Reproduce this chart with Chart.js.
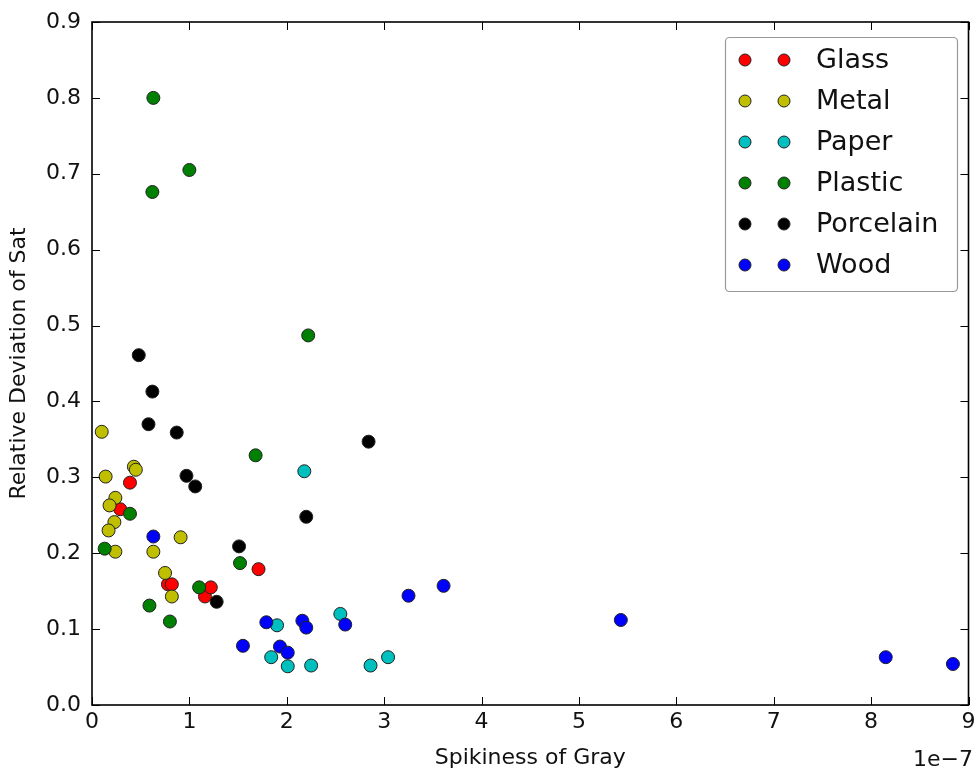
<!DOCTYPE html>
<html>
<head>
<meta charset="utf-8">
<script src="https://cdn.jsdelivr.net/npm/chart.js@4"></script>
<style>
  html, body { margin: 0; padding: 0; background: #fff; }
  #wrap { width: 976px; height: 773px; }
</style>
</head>
<body>
<div id="wrap"><canvas id="c" width="976" height="773"></canvas></div>
<script>
// Spikiness of Gray is stored in units of 1e-7; Relative Deviation of Sat is unitless.
const materials = ['Glass', 'Metal', 'Paper', 'Plastic', 'Porcelain', 'Wood'];
const colors = ['#ff0000', '#bfbf00', '#00bfbf', '#008000', '#000000', '#0000ff'];

const glassX = [0.39, 0.29, 0.78, 0.82, 1.16, 1.22, 1.71];
const glassY = [0.293, 0.258, 0.159, 0.159, 0.143, 0.155, 0.179];

const metalX = [0.10, 0.14, 0.43, 0.45, 0.24, 0.18, 0.23, 0.17, 0.24, 0.63, 0.91, 0.75, 0.82];
const metalY = [0.360, 0.301, 0.314, 0.310, 0.273, 0.263, 0.241, 0.230, 0.202, 0.202, 0.221, 0.174, 0.143];

const paperX = [2.18, 1.90, 2.55, 1.84, 2.01, 2.25, 2.86, 3.04];
const paperY = [0.308, 0.105, 0.120, 0.063, 0.051, 0.052, 0.052, 0.063];

const plasticX = [0.63, 1.00, 0.62, 2.22, 1.68, 0.39, 0.13, 1.52, 1.10, 0.59, 0.80];
const plasticY = [0.800, 0.705, 0.676, 0.487, 0.329, 0.252, 0.206, 0.187, 0.155, 0.131, 0.110];

const porcelainX = [0.48, 0.62, 0.58, 0.87, 0.97, 1.06, 1.51, 1.28, 2.84, 2.20];
const porcelainY = [0.461, 0.413, 0.370, 0.359, 0.302, 0.288, 0.209, 0.136, 0.347, 0.248];

const woodX = [0.63, 1.79, 2.16, 2.20, 2.60, 3.25, 1.55, 1.93, 2.01, 3.61, 5.43, 8.15, 8.84];
const woodY = [0.222, 0.109, 0.111, 0.102, 0.106, 0.144, 0.078, 0.077, 0.069, 0.157, 0.112, 0.063, 0.054];

const xTicks = [0, 1, 2, 3, 4, 5, 6, 7, 8, 9];
const yTicks = [0.0, 0.1, 0.2, 0.3, 0.4, 0.5, 0.6, 0.7, 0.8, 0.9];

const xs = [glassX, metalX, paperX, plasticX, porcelainX, woodX];
const ys = [glassY, metalY, paperY, plasticY, porcelainY, woodY];

const FONT = "'DejaVu Sans', sans-serif";
const INK = '#111';

const datasets = materials.map((name, i) => ({
  label: name,
  data: xs[i].map((x, k) => ({ x: x, y: ys[i][k] })),
  backgroundColor: colors[i],
  borderColor: '#222',
  borderWidth: 1,
  pointRadius: 6.5,
  pointHoverRadius: 6.5,
  order: materials.length - i
}));

// Box around the axes, inward tick marks on all four sides, offset text and legend.
const axesDecor = {
  id: 'axesDecor',
  afterDatasetsDraw(chart) {
    const { ctx, chartArea: a, scales: { x, y } } = chart;
    const L = 8;
    ctx.save();
    ctx.strokeStyle = '#000';
    ctx.lineWidth = 1;
    ctx.beginPath();
    xTicks.forEach(v => {
      const px = Math.round(x.getPixelForValue(v)) + 0.5;
      ctx.moveTo(px, a.bottom); ctx.lineTo(px, a.bottom - L);
      ctx.moveTo(px, a.top); ctx.lineTo(px, a.top + L);
    });
    yTicks.forEach(v => {
      const py = Math.round(y.getPixelForValue(v)) + 0.5;
      ctx.moveTo(a.left, py); ctx.lineTo(a.left + L, py);
      ctx.moveTo(a.right, py); ctx.lineTo(a.right - L, py);
    });
    ctx.stroke();
    ctx.lineWidth = 1.6;
    ctx.strokeRect(a.left, a.top, a.right - a.left, a.bottom - a.top);

    // offset multiplier for the x axis
    ctx.fillStyle = INK;
    ctx.font = `22px ${FONT}`;
    ctx.textAlign = 'right';
    ctx.textBaseline = 'alphabetic';
    ctx.fillText('1e\u22127', 973, 766);

    // legend: two sample markers per entry
    const bx = 725.5, by = 37.5, bw = 232, bh = 254, r = 4;
    ctx.beginPath();
    ctx.moveTo(bx + r, by);
    ctx.arcTo(bx + bw, by, bx + bw, by + bh, r);
    ctx.arcTo(bx + bw, by + bh, bx, by + bh, r);
    ctx.arcTo(bx, by + bh, bx, by, r);
    ctx.arcTo(bx, by, bx + bw, by, r);
    ctx.closePath();
    ctx.fillStyle = '#fff';
    ctx.fill();
    ctx.strokeStyle = '#999';
    ctx.lineWidth = 1.2;
    ctx.stroke();
    ctx.font = `27px ${FONT}`;
    ctx.textAlign = 'left';
    ctx.textBaseline = 'middle';
    chart.data.datasets.forEach((ds, i) => {
      const cy = 60 + i * 41;
      [745, 784].forEach(cx => {
        ctx.beginPath();
        ctx.arc(cx, cy, 6, 0, Math.PI * 2);
        ctx.fillStyle = ds.backgroundColor;
        ctx.fill();
        ctx.strokeStyle = '#222';
        ctx.lineWidth = 1;
        ctx.stroke();
      });
      ctx.fillStyle = INK;
      ctx.fillText(ds.label, 816, cy + 1);
    });
    ctx.restore();
  }
};

new Chart(document.getElementById('c'), {
  type: 'scatter',
  data: { datasets },
  options: {
    responsive: false,
    animation: false,
    events: [],
    layout: { padding: { top: 22, right: 6, left: 0, bottom: 0 } },
    plugins: { legend: { display: false }, tooltip: { enabled: false } },
    scales: {
      x: {
        type: 'linear',
        min: 0, max: 9,
        afterFit: s => { s.height = 68; s.paddingLeft = 0; s.paddingRight = 0; },
        afterBuildTicks: s => { s.ticks = xTicks.map(v => ({ value: v })); },
        grid: { display: false, drawTicks: false },
        border: { display: false },
        ticks: {
          padding: 4,
          color: INK,
          font: { family: FONT, size: 22 },
          maxRotation: 0,
          callback: v => String(v)
        },
        title: {
          display: true,
          text: 'Spikiness of Gray',
          color: INK,
          font: { family: FONT, size: 22 },
          padding: { top: 0, bottom: 2 }
        }
      },
      y: {
        type: 'linear',
        min: 0, max: 0.9,
        afterFit: s => { s.width = 92; s.paddingTop = 0; s.paddingBottom = 0; },
        afterBuildTicks: s => { s.ticks = yTicks.map(v => ({ value: v })); },
        grid: { display: false, drawTicks: false },
        border: { display: false },
        ticks: {
          padding: 11,
          color: INK,
          font: { family: FONT, size: 22 },
          callback: v => Number(v).toFixed(1)
        },
        title: {
          display: true,
          text: 'Relative Deviation of Sat',
          color: INK,
          font: { family: FONT, size: 22 },
          padding: { top: 6, bottom: 0 }
        }
      }
    }
  },
  plugins: [axesDecor]
});
</script>
</body>
</html>
